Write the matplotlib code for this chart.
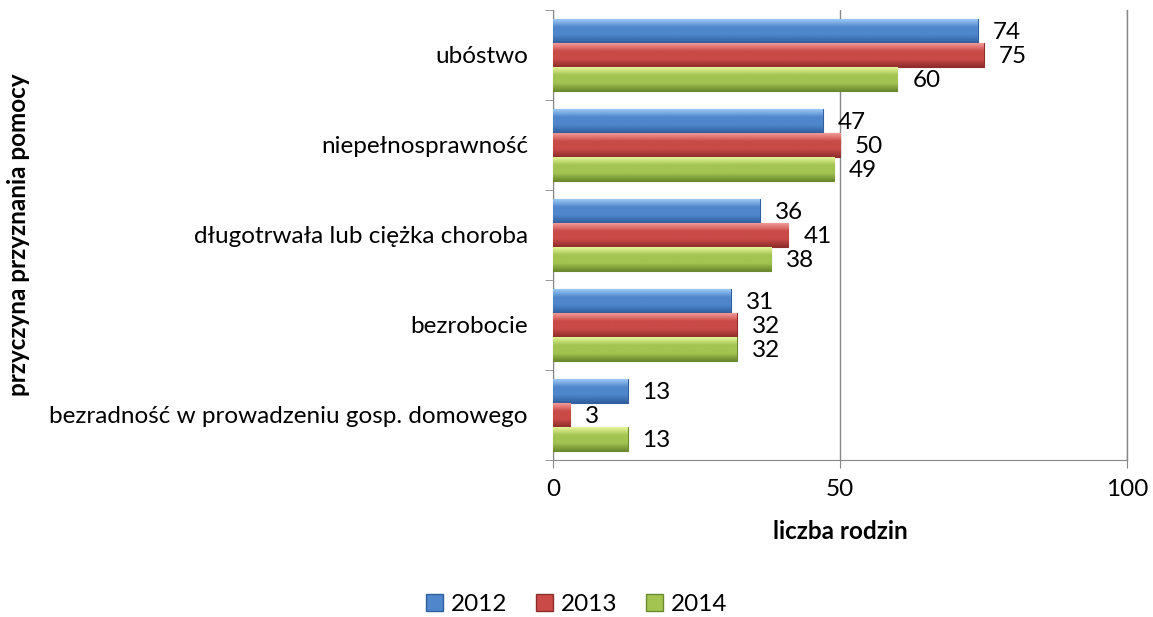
import numpy as np
import matplotlib
matplotlib.use("Agg")
from matplotlib import pyplot as plt
from matplotlib.colors import LinearSegmentedColormap
from matplotlib.patches import Patch

categories = ["ubóstwo", "niepełnosprawność", "długotrwała lub ciężka choroba",
              "bezrobocie", "bezradność w prowadzeniu gosp. domowego"]
years = ["2012", "2013", "2014"]
v2012 = [74, 47, 36, 31, 13]
v2013 = [75, 50, 41, 32, 3]
v2014 = [60, 49, 38, 32, 13]
series = [v2012, v2013, v2014]

# light, mid, dark for a bevel-like gradient
shades = [("#9cc8f4", "#4f86cc", "#2f5f9e"),
          ("#f39a98", "#c94a47", "#8e2e2c"),
          ("#e6f59a", "#a3c451", "#6b8a2e")]

plt.rcParams['font.family'] = ['Lato', 'DejaVu Sans']
fs = 17.5

fig = plt.figure(figsize=(11.53, 6.17), dpi=100)
ax = fig.add_axes([0.4796, 0.2545, 0.4979, 0.7293])

h = 0.8 / 3
y = np.arange(len(categories))
for k, vals in enumerate(series):
    light, mid, dark = shades[k]
    cmap = LinearSegmentedColormap.from_list("g%d" % k, [light, mid, mid, dark])
    grad = np.linspace(0, 1, 64).reshape(-1, 1)
    for i, v in enumerate(vals):
        yc = y[i] - 0.4 + h * (k + 0.5)
        top = yc - h / 2
        bot = yc + h / 2
        bars = ax.barh(yc, v, height=h, color=mid, edgecolor=dark, linewidth=0.8, zorder=3)
        im = ax.imshow(grad, cmap=cmap, aspect='auto', extent=[0, v, bot, top],
                       origin='upper', zorder=3)
        im.set_clip_path(bars[0])
        ax.text(v + 2.6, yc + 0.02, str(v), va='center', ha='left', fontsize=fs, zorder=4)

ax.set_xlim(0, 100)
ax.set_ylim(len(categories) - 0.5, -0.5)
ax.set_xticks([0, 50, 100])
ax.set_xticklabels(["0", "50", "100"], fontsize=fs)
ax.set_yticks(y)
ax.set_yticklabels(categories, fontsize=fs)
ax.set_yticks(np.arange(-0.5, len(categories), 1), minor=True)
ax.tick_params(axis='y', which='major', length=0, pad=18)
ax.tick_params(axis='y', which='minor', length=6, color='#888888', direction='out')
ax.tick_params(axis='x', length=6, color='#888888', direction='out', pad=8)
ax.grid(axis='x', color='#888888', linewidth=1, zorder=0)
ax.axvline(100, color='#888888', linewidth=1, zorder=0, clip_on=False)
ax.set_axisbelow(True)
for s in ['top', 'right']:
    ax.spines[s].set_visible(False)
ax.spines['left'].set_color('#888888')
ax.spines['bottom'].set_color('#888888')

ax.set_xlabel("liczba rodzin", fontsize=fs, fontweight='bold', labelpad=14)
fig.text(0.016, 0.62, "przyczyna przyznania pomocy", rotation=90, fontsize=fs,
         fontweight='bold', ha='center', va='center')

handles = [Patch(facecolor=shades[k][1], edgecolor=shades[k][2]) for k in range(3)]
fig.legend(handles, years, loc='center', bbox_to_anchor=(0.5, 0.02), ncol=3,
           frameon=False, fontsize=fs, handlelength=0.7, handleheight=0.7,
           handletextpad=0.3, columnspacing=1.2)

fig.savefig("out.png", dpi=100)
